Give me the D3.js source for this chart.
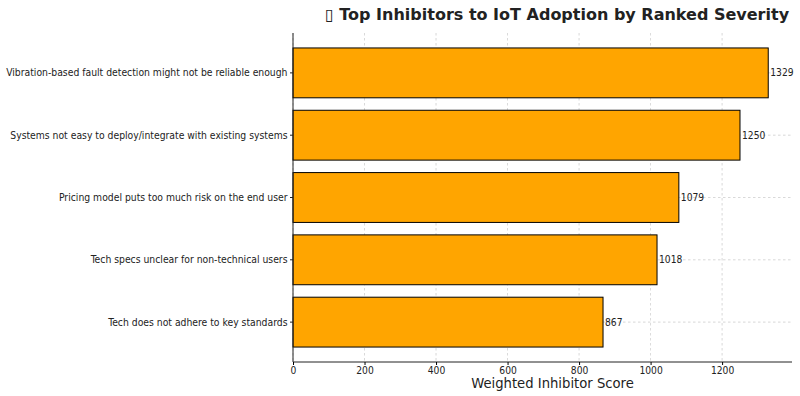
<!DOCTYPE html>
<html>
<head>
<meta charset="utf-8">
<script src="https://cdn.jsdelivr.net/npm/d3@7"></script>
<style>
  body { margin: 0; background: #fff; }
  text { font-family: "DejaVu Sans", sans-serif; fill: #222; }
  .cond { font-family: "DejaVu Sans Condensed", "DejaVu Sans", sans-serif; font-stretch: condensed; }
</style>
</head>
<body>
<div id="chart"></div>
<script>
// Chart data
var categories = [
  "Vibration-based fault detection might not be reliable enough",
  "Systems not easy to deploy/integrate with existing systems",
  "Pricing model puts too much risk on the end user",
  "Tech specs unclear for non-technical users",
  "Tech does not adhere to key standards"
];
var scores = [1329, 1250, 1079, 1018, 867];
var xTicks = [0, 200, 400, 600, 800, 1000, 1200];

var width = 800, height = 396;
var margin = { top: 33, right: 8, bottom: 34, left: 293 };
var innerW = width - margin.left - margin.right;
var innerH = height - margin.top - margin.bottom;

var svg = d3.select("#chart").append("svg")
  .attr("width", width)
  .attr("height", height);

var g = svg.append("g")
  .attr("transform", "translate(" + margin.left + "," + margin.top + ")");

// x domain with matplotlib-style 5% margin on the right
var x = d3.scaleLinear()
  .domain([0, d3.max(scores) * 1.05])
  .range([0, innerW]);

// bar height 0.8 of a step, with 0.24 step padding at top and bottom
var step = innerH / 5.28;
var y = function (i) { return (0.64 + i) * step; };
var barH = 0.8 * step;

// Grid lines
g.append("g").selectAll("line")
  .data(xTicks)
  .enter().append("line")
  .attr("x1", function (d) { return x(d); })
  .attr("x2", function (d) { return x(d); })
  .attr("y1", 0).attr("y2", innerH)
  .style("stroke", "#b0b0b0")
  .style("stroke-width", 0.8)
  .style("stroke-dasharray", "2.5,2.5")
  .style("opacity", 0.6);

g.append("g").selectAll("line")
  .data(categories)
  .enter().append("line")
  .attr("x1", 0).attr("x2", innerW)
  .attr("y1", function (d, i) { return y(i); })
  .attr("y2", function (d, i) { return y(i); })
  .style("stroke", "#b0b0b0")
  .style("stroke-width", 0.8)
  .style("stroke-dasharray", "2.5,2.5")
  .style("opacity", 0.6);

// Bars
g.append("g").selectAll("rect")
  .data(scores)
  .enter().append("rect")
  .attr("x", x(0))
  .attr("y", function (d, i) { return y(i) - barH / 2; })
  .attr("width", function (d) { return x(d) - x(0); })
  .attr("height", barH)
  .style("fill", "#FFA500")
  .style("stroke", "#000")
  .style("stroke-width", 1);

// Value labels
g.append("g").selectAll("text")
  .data(scores)
  .enter().append("text")
  .attr("class", "cond")
  .attr("x", function (d) { return x(d) + 2; })
  .attr("y", function (d, i) { return y(i); })
  .attr("dy", "0.35em")
  .style("font-size", "10.2px")
  .text(function (d) { return d; });

// Axes (left + bottom spines only)
var xAxis = g.append("g")
  .attr("transform", "translate(0," + innerH + ")")
  .call(d3.axisBottom(x).tickValues(xTicks).tickSize(3).tickPadding(1.5).tickFormat(d3.format("d")));
xAxis.select(".domain").attr("d", "M0,0H" + innerW).style("stroke", "#222").style("stroke-width", 1);
xAxis.selectAll("text").attr("class", "cond").style("font-size", "10.2px");

var yAxis = g.append("g");
yAxis.append("line")
  .attr("x1", 0).attr("x2", 0).attr("y1", 0).attr("y2", innerH)
  .style("stroke", "#222").style("stroke-width", 1);
yAxis.selectAll("line.tick")
  .data(categories)
  .enter().append("line")
  .attr("x1", -3).attr("x2", 0)
  .attr("y1", function (d, i) { return y(i); })
  .attr("y2", function (d, i) { return y(i); })
  .style("stroke", "#222");
yAxis.selectAll("text")
  .data(categories)
  .enter().append("text")
  .attr("class", "cond")
  .attr("x", -3 - 2.5)
  .attr("y", function (d, i) { return y(i); })
  .attr("dy", "0.35em")
  .attr("text-anchor", "end")
  .style("font-size", "10.3px")
  .text(function (d) { return d; });

// Axis title
svg.append("text")
  .attr("x", margin.left + innerW / 2 + 10)
  .attr("y", 388)
  .attr("text-anchor", "middle")
  .style("font-size", "13.2px")
  .text("Weighted Inhibitor Score");

// Chart title
svg.append("text")
  .attr("x", 557)
  .attr("y", 20)
  .attr("text-anchor", "middle")
  .style("font-size", "16px")
  .style("font-weight", "bold")
  .text("\u25AF Top Inhibitors to IoT Adoption by Ranked Severity");
</script>
</body>
</html>
